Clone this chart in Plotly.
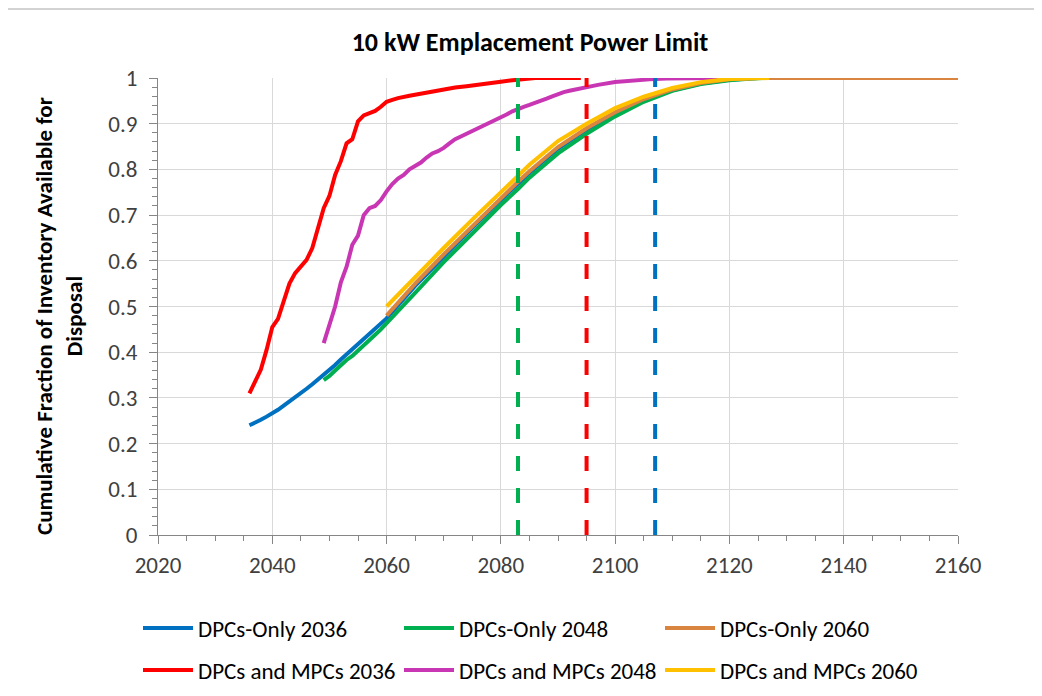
import plotly.graph_objects as go

# ---- data ----
blue_x = [2036, 2037, 2038, 2039, 2040, 2041, 2042, 2043, 2044, 2045, 2046, 2047, 2048, 2049, 2050,
          2051, 2052, 2053, 2054, 2055, 2056, 2057, 2058, 2059, 2060, 2065, 2070, 2075, 2080, 2085,
          2090, 2095, 2100, 2105, 2110, 2115, 2120, 2125]
blue_y = [0.240, 0.245, 0.252, 0.259, 0.266, 0.274, 0.283, 0.292, 0.300, 0.310, 0.320, 0.330, 0.340, 0.350, 0.361,
          0.372, 0.384, 0.395, 0.407, 0.418, 0.430, 0.440, 0.451, 0.462, 0.474, 0.545, 0.610, 0.672, 0.733, 0.792,
          0.845, 0.887, 0.922, 0.952, 0.973, 0.988, 0.996, 1.000]

green_x = [2049, 2050, 2051, 2052, 2053, 2054, 2055, 2056, 2057, 2058, 2059, 2060, 2062, 2065, 2070,
           2075, 2080, 2083, 2085, 2087, 2090, 2095, 2100, 2105, 2110, 2115, 2120, 2124, 2126]
green_y = [0.339, 0.348, 0.360, 0.372, 0.383, 0.392, 0.403, 0.416, 0.427, 0.438, 0.450, 0.463, 0.490, 0.530, 0.597,
           0.660, 0.722, 0.757, 0.782, 0.803, 0.835, 0.878, 0.916, 0.948, 0.972, 0.987, 0.995, 0.999, 1.000]

orange_x = [2060, 2065, 2070, 2075, 2080, 2083, 2085, 2090, 2095, 2100, 2105, 2110, 2115, 2120, 2125, 2160]
orange_y = [0.480, 0.550, 0.614, 0.676, 0.737, 0.773, 0.796, 0.849, 0.890, 0.925, 0.954, 0.975, 0.989, 0.997, 1.000, 1.000]

red_x = [2036, 2037, 2038, 2039, 2040, 2041, 2042, 2043, 2044, 2045, 2046, 2047, 2048, 2049, 2050,
         2051, 2052, 2053, 2054, 2055, 2056, 2057, 2058, 2059, 2060, 2061, 2062, 2064, 2066, 2068,
         2070, 2072, 2074, 2076, 2078, 2080, 2082, 2084, 2086, 2094]
red_y = [0.310, 0.335, 0.362, 0.405, 0.455, 0.473, 0.510, 0.550, 0.573, 0.586, 0.602, 0.628, 0.670, 0.715, 0.742,
         0.788, 0.818, 0.857, 0.866, 0.905, 0.918, 0.924, 0.928, 0.937, 0.948, 0.952, 0.956, 0.961, 0.966, 0.971,
         0.976, 0.979, 0.982, 0.986, 0.989, 0.992, 0.995, 0.998, 1.000, 1.000]

magenta_x = [2049, 2050, 2051, 2052, 2053, 2054, 2055, 2056, 2057, 2058, 2059, 2060, 2061, 2062, 2063,
             2064, 2065, 2066, 2067, 2068, 2069, 2070, 2071, 2072, 2073, 2074, 2075, 2076, 2077, 2078,
             2079, 2080, 2081, 2082, 2083, 2084, 2085, 2086, 2087, 2088, 2089, 2090, 2091, 2092, 2093,
             2094, 2095, 2097, 2100, 2103, 2106, 2109, 2112, 2118]
magenta_y = [0.420, 0.463, 0.500, 0.553, 0.587, 0.635, 0.655, 0.700, 0.715, 0.720, 0.733, 0.752, 0.768, 0.780, 0.788,
             0.800, 0.807, 0.815, 0.826, 0.835, 0.840, 0.847, 0.857, 0.866, 0.872, 0.878, 0.884, 0.890, 0.895, 0.900,
             0.906, 0.912, 0.920, 0.927, 0.933, 0.937, 0.941, 0.945, 0.950, 0.955, 0.960, 0.965, 0.969, 0.972, 0.975,
             0.978, 0.980, 0.985, 0.991, 0.995, 0.997, 0.999, 1.000, 1.000]

yellow_x = [2060, 2065, 2070, 2075, 2080, 2083, 2085, 2090, 2095, 2100, 2105, 2110, 2115, 2120, 2125, 2127]
yellow_y = [0.500, 0.565, 0.628, 0.690, 0.750, 0.787, 0.810, 0.862, 0.900, 0.934, 0.959, 0.978, 0.991, 0.998, 1.000, 1.000]

series_names = ["DPCs-Only 2036", "DPCs-Only 2048", "DPCs-Only 2060",
                "DPCs and MPCs 2036", "DPCs and MPCs 2048", "DPCs and MPCs 2060"]
series_colors = ["#0070C0", "#00B050", "#D9843F", "#FF0000", "#C936B4", "#FFC000"]
series_x = [blue_x, green_x, orange_x, red_x, magenta_x, yellow_x]
series_y = [blue_y, green_y, orange_y, red_y, magenta_y, yellow_y]
series_legend = ["legend", "legend", "legend", "legend2", "legend2", "legend2"]

marker_years = [2083, 2095, 2107]
marker_colors = ["#00B050", "#FF0000", "#0070C0"]
marker_span = [0, 1]

FONT = "Carlito, Lato, sans-serif"

fig = go.Figure()
for name, col, xs, ys, lg in zip(series_names, series_colors, series_x, series_y, series_legend):
    fig.add_trace(go.Scatter(x=xs, y=ys, mode="lines", name=name, legend=lg,
                             line=dict(color=col, width=4)))

for yr, col in zip(marker_years, marker_colors):
    fig.add_trace(go.Scatter(x=[yr, yr], y=marker_span, mode="lines", showlegend=False,
                             line=dict(color=col, width=4, dash="15px,17px")))

# target plot area in the screenshot (page has an 8px body margin)
OFF = 8
L, R, T, B = 158, 958, 78, 535
W, H = 1042, 696
pw, ph = R - L, B - T

def px(xp):
    return (xp - L) / pw

def py(yp):
    return (B - yp) / ph

legend_common = dict(orientation="h", xanchor="left", yanchor="middle",
                     font=dict(family=FONT, size=23, color="#000000"),
                     entrywidth=196, entrywidthmode="pixels", itemwidth=50,
                     bgcolor="rgba(0,0,0,0)", borderwidth=0, tracegroupgap=0)

fig.update_layout(
    width=W, height=H,
    margin=dict(l=L - OFF, r=W - pw - (L - OFF), t=T - OFF, b=H - ph - (T - OFF), autoexpand=False),
    paper_bgcolor="white", plot_bgcolor="white",
    font=dict(family=FONT, color="#404040"),
    title=dict(text="<b>10 kW Emplacement Power Limit</b>", x=(530 - OFF) / W, xanchor="center",
               y=1 - (42 - OFF) / H, yanchor="middle", yref="container",
               font=dict(family=FONT, size=26, color="#000000")),
    xaxis=dict(range=[2020, 2160], dtick=20, tick0=2020, showgrid=True, gridcolor="#d9d9d9",
               gridwidth=1, zeroline=False, showline=True, linecolor="#868686", linewidth=1,
               ticks="outside", ticklen=8, tickcolor="#868686", ticklabelstandoff=1,
               minor=dict(dtick=5, ticks="outside", ticklen=5, tickcolor="#868686", showgrid=False),
               tickfont=dict(family=FONT, size=23, color="#404040")),
    yaxis=dict(range=[0, 1], dtick=0.1, tick0=0, showgrid=True, gridcolor="#d9d9d9",
               gridwidth=1, zeroline=False, showline=True, linecolor="#868686", linewidth=1,
               ticks="outside", ticklen=8, tickcolor="#868686", ticklabelstandoff=7,
               minor=dict(dtick=0.02, ticks="outside", ticklen=5, tickcolor="#868686", showgrid=False),
               tickfont=dict(family=FONT, size=23, color="#404040")),
    annotations=[dict(text="<b>Cumulative Fraction of Inventory Available for<br>Disposal</b>",
                      xref="paper", yref="paper", x=px(59), y=py(316), xanchor="center",
                      yanchor="middle", textangle=-90, showarrow=False,
                      font=dict(family=FONT, size=23, color="#000000"))],
    legend=dict(x=px(138), y=py(628), **legend_common),
    legend2=dict(x=px(138), y=py(670), **legend_common),
    shapes=[dict(type="rect", xref="paper", yref="paper", x0=px(7), x1=px(1060),
                 y0=py(720), y1=py(9), line=dict(color="#a6a6a6", width=1),
                 fillcolor="rgba(0,0,0,0)", layer="below")],
)

fig.write_html("out.html")
